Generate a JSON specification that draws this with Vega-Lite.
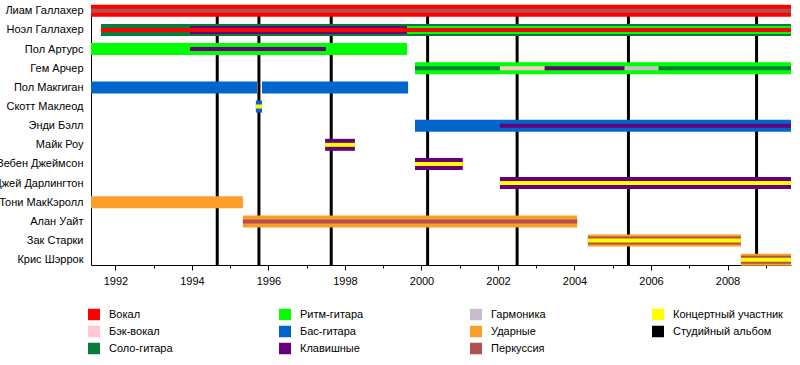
{
  "$schema": "https://vega.github.io/schema/vega-lite/v6.json",
  "width": 700,
  "height": 259.5,
  "autosize": "none",
  "padding": {"left": 91, "top": 5.5, "right": 9, "bottom": 100},
  "config": {
    "font": "Liberation Sans",
    "view": {"stroke": null},
    "axis": {"labelFont": "Liberation Sans", "labelColor": "black", "domainColor": "black", "tickColor": "black", "grid": false, "title": null},
    "legend": {"labelFont": "Liberation Sans", "labelColor": "black"}
  },
  "datasets": {
    "albums": [
      {"album": "Definitely Maybe", "year": 1994.66, "role": "Студийный альбом"},
      {"album": "(What's the Story) Morning Glory?", "year": 1995.75, "role": "Студийный альбом"},
      {"album": "Be Here Now", "year": 1997.64, "role": "Студийный альбом"},
      {"album": "Standing on the Shoulder of Giants", "year": 2000.16, "role": "Студийный альбом"},
      {"album": "Heathen Chemistry", "year": 2002.5, "role": "Студийный альбом"},
      {"album": "Don't Believe the Truth", "year": 2005.41, "role": "Студийный альбом"},
      {"album": "Dig Out Your Soul", "year": 2008.76, "role": "Студийный альбом"}
    ],
    "members": [
      {"member": "Лиам Галлахер", "role": "Вокал", "start": 1991.36, "end": 2009.66, "part": "main"},
      {"member": "Лиам Галлахер", "role": "Перкуссия", "start": 1991.36, "end": 2009.66, "part": "inner"},
      {"member": "Ноэл Галлахер", "role": "Соло-гитара", "start": 1991.62, "end": 2009.66, "part": "main"},
      {"member": "Ноэл Галлахер", "role": "Клавишные", "start": 1993.95, "end": 1999.62, "part": "sub"},
      {"member": "Ноэл Галлахер", "role": "Ритм-гитара", "start": 1999.62, "end": 2009.66, "part": "sub"},
      {"member": "Ноэл Галлахер", "role": "Вокал", "start": 1991.62, "end": 2009.66, "part": "inner"},
      {"member": "Пол Артурс", "role": "Ритм-гитара", "start": 1991.36, "end": 1999.62, "part": "main"},
      {"member": "Пол Артурс", "role": "Клавишные", "start": 1993.95, "end": 1997.5, "part": "inner"},
      {"member": "Гем Арчер", "role": "Ритм-гитара", "start": 1999.83, "end": 2009.66, "part": "main"},
      {"member": "Гем Арчер", "role": "Соло-гитара", "start": 1999.83, "end": 2002.05, "part": "inner"},
      {"member": "Гем Арчер", "role": "Бэк-вокал", "start": 2002.05, "end": 2003.22, "part": "inner"},
      {"member": "Гем Арчер", "role": "Клавишные", "start": 2003.22, "end": 2005.31, "part": "inner"},
      {"member": "Гем Арчер", "role": "Гармоника", "start": 2005.31, "end": 2006.2, "part": "inner"},
      {"member": "Гем Арчер", "role": "Соло-гитара", "start": 2006.2, "end": 2009.66, "part": "inner"},
      {"member": "Пол Макгиган", "role": "Бас-гитара", "start": 1991.36, "end": 1995.7, "part": "main"},
      {"member": "Пол Макгиган", "role": "Бас-гитара", "start": 1995.83, "end": 1999.65, "part": "main"},
      {"member": "Скотт Маклеод", "role": "Бас-гитара", "start": 1995.67, "end": 1995.83, "part": "main"},
      {"member": "Скотт Маклеод", "role": "Концертный участник", "start": 1995.67, "end": 1995.83, "part": "inner"},
      {"member": "Энди Бэлл", "role": "Бас-гитара", "start": 1999.83, "end": 2009.66, "part": "main"},
      {"member": "Энди Бэлл", "role": "Клавишные", "start": 2002.05, "end": 2009.66, "part": "inner"},
      {"member": "Майк Роу", "role": "Клавишные", "start": 1997.48, "end": 1998.26, "part": "main"},
      {"member": "Майк Роу", "role": "Концертный участник", "start": 1997.48, "end": 1998.26, "part": "inner"},
      {"member": "Зебен Джеймсон", "role": "Клавишные", "start": 1999.83, "end": 2001.08, "part": "main"},
      {"member": "Зебен Джеймсон", "role": "Концертный участник", "start": 1999.83, "end": 2001.08, "part": "inner"},
      {"member": "Джей Дарлингтон", "role": "Клавишные", "start": 2002.05, "end": 2009.66, "part": "main"},
      {"member": "Джей Дарлингтон", "role": "Концертный участник", "start": 2002.05, "end": 2009.66, "part": "inner"},
      {"member": "Тони МакКэролл", "role": "Ударные", "start": 1991.36, "end": 1995.33, "part": "main"},
      {"member": "Алан Уайт", "role": "Ударные", "start": 1995.33, "end": 2004.07, "part": "main"},
      {"member": "Алан Уайт", "role": "Перкуссия", "start": 1995.33, "end": 2004.07, "part": "inner"},
      {"member": "Зак Старки", "role": "Ударные", "start": 2004.35, "end": 2008.35, "part": "main"},
      {"member": "Зак Старки", "role": "Перкуссия", "start": 2004.35, "end": 2008.35, "part": "sub"},
      {"member": "Зак Старки", "role": "Концертный участник", "start": 2004.35, "end": 2008.35, "part": "inner"},
      {"member": "Крис Шэррок", "role": "Ударные", "start": 2008.35, "end": 2009.66, "part": "main"},
      {"member": "Крис Шэррок", "role": "Перкуссия", "start": 2008.35, "end": 2009.66, "part": "sub"},
      {"member": "Крис Шэррок", "role": "Концертный участник", "start": 2008.35, "end": 2009.66, "part": "inner"}
    ]
  },
  "layer": [
    {
      "data": {"name": "albums"},
      "mark": {"type": "rule"},
      "encoding": {
        "x": {
          "field": "year", "type": "quantitative",
          "scale": {"domain": [1991.36, 2009.66], "nice": false, "zero": false},
          "axis": {
            "values": [1992, 1993, 1994, 1995, 1996, 1997, 1998, 1999, 2000, 2001, 2002, 2003, 2004, 2005, 2006, 2007, 2008, 2009],
            "format": "d",
            "labelExpr": "datum.value % 2 === 0 ? datum.label : ''",
            "tickSize": {"condition": {"test": "datum.value % 2 === 0", "value": 5}, "value": 3},
            "labelFontSize": 11,
            "labelPadding": 5,
            "labelFlush": false,
            "labelOverlap": false
          }
        },
        "color": {
          "field": "role", "type": "nominal",
          "scale": {
            "domain": ["Вокал", "Бэк-вокал", "Соло-гитара", "Ритм-гитара", "Бас-гитара", "Клавишные", "Гармоника", "Ударные", "Перкуссия", "Концертный участник", "Студийный альбом"],
            "range": ["#ff0000", "#ffc8d2", "#087d3b", "#00ff00", "#0066cc", "#68007a", "#c9bccd", "#fb9f2a", "#b24f4f", "#ffff00", "#000000"]
          },
          "legend": {
            "title": null,
            "orient": "none",
            "legendX": -3,
            "legendY": 303,
            "columns": 4,
            "symbolType": "square",
            "symbolSize": 36,
            "symbolStrokeWidth": 6,
            "clipHeight": 12,
            "labelFontSize": 11,
            "columnPadding": 106,
            "rowPadding": 5,
            "labelOffset": 9,
            "gridAlign": "each"
          }
        },
        "strokeWidth": {"value": 3}
      }
    },
    {
      "data": {"name": "members"},
      "transform": [{"filter": "datum.part === 'main'"}],
      "mark": {"type": "bar", "size": 12},
      "encoding": {
        "y": {
          "field": "member", "type": "nominal",
          "scale": {"type": "point", "padding": 0.277, "domain": ["Лиам Галлахер", "Ноэл Галлахер", "Пол Артурс", "Гем Арчер", "Пол Макгиган", "Скотт Маклеод", "Энди Бэлл", "Майк Роу", "Зебен Джеймсон", "Джей Дарлингтон", "Тони МакКэролл", "Алан Уайт", "Зак Старки", "Крис Шэррок"]},
          "sort": null,
          "axis": {"title": null, "ticks": false, "labelPadding": 8, "labelFontSize": 11, "labelLimit": 0}
        },
        "x": {"field": "start", "type": "quantitative"},
        "x2": {"field": "end"},
        "color": {"field": "role", "type": "nominal"}
      }
    },
    {
      "data": {"name": "members"},
      "transform": [{"filter": "datum.part === 'sub'"}],
      "mark": {"type": "bar", "size": 8},
      "encoding": {
        "y": {"field": "member", "type": "nominal", "sort": null},
        "x": {"field": "start", "type": "quantitative"},
        "x2": {"field": "end"},
        "color": {"field": "role", "type": "nominal"}
      }
    },
    {
      "data": {"name": "members"},
      "transform": [{"filter": "datum.part === 'inner'"}],
      "mark": {"type": "bar", "size": 4},
      "encoding": {
        "y": {"field": "member", "type": "nominal", "sort": null},
        "x": {"field": "start", "type": "quantitative"},
        "x2": {"field": "end"},
        "color": {"field": "role", "type": "nominal"}
      }
    }
  ]
}
